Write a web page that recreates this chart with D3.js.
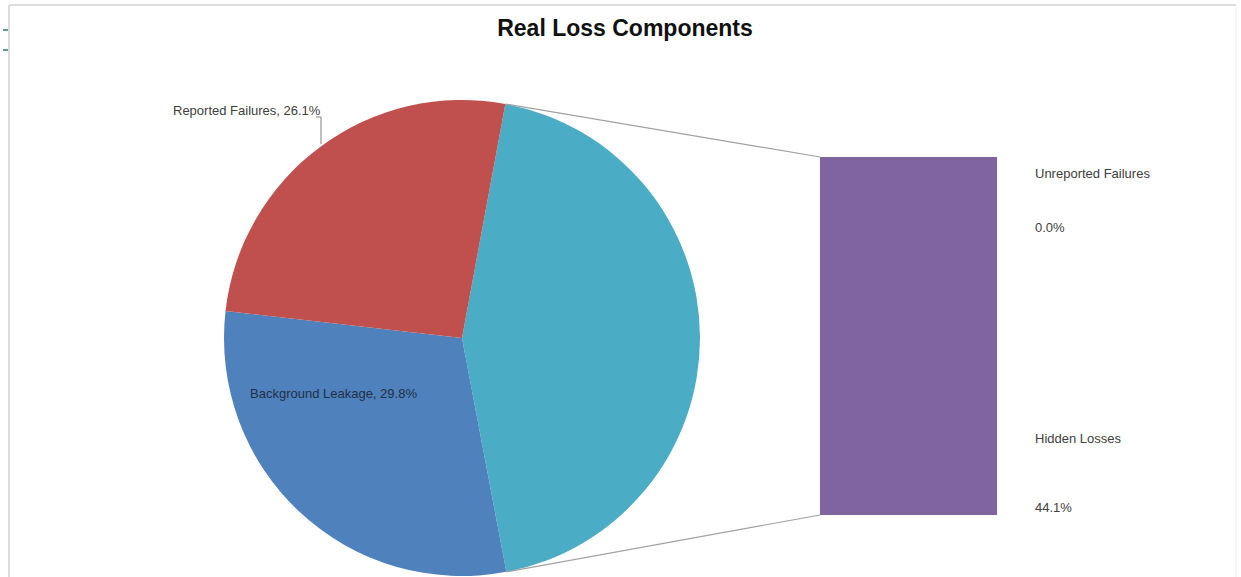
<!DOCTYPE html>
<html>
<head>
<meta charset="utf-8">
<script src="https://cdn.jsdelivr.net/npm/d3@7"></script>
<style>
  body { margin: 0; background: #fff; }
  svg { display: block; font-family: 'Liberation Sans', Arial, sans-serif; }
</style>
</head>
<body>
<svg id="chart" width="1241" height="577"></svg>
<script>
// Pie slices (cyan slice is split out into the bar)
const pieNames = ['Other', 'Background Leakage', 'Reported Failures'];
const pieValues = [44.1, 29.8, 26.1];
const pieColors = ['#4BACC6', '#4F81BD', '#C0504D'];

// Bar segments (bottom to top)
const barNames = ['Hidden Losses', 'Unreported Failures'];
const barValues = [44.1, 0.0];
const barColors = ['#8064A2', '#9BBB59'];

const svg = d3.select('#chart');

// frame
svg.append('line').attr('x1', 9).attr('y1', 5).attr('x2', 1236).attr('y2', 5)
  .style('stroke', '#dcdcdc').style('stroke-width', 2);
svg.append('line').attr('x1', 9).attr('y1', 5).attr('x2', 9).attr('y2', 577)
  .style('stroke', '#dcdcdc').style('stroke-width', 2);
svg.append('line').attr('x1', 1236).attr('y1', 5).attr('x2', 1236).attr('y2', 577)
  .style('stroke', '#f0f0f0').style('stroke-width', 1);
// little teal ticks at left edge
[30, 50].forEach((yy) => {
  svg.append('line').attr('x1', 3).attr('x2', 8).attr('y1', yy).attr('y2', yy)
    .style('stroke', '#6a9a8a').style('stroke-width', 2);
});

// title
svg.append('text')
  .attr('x', 625)
  .attr('y', 36)
  .attr('text-anchor', 'middle')
  .style('font-size', '23px')
  .style('font-weight', 'bold')
  .style('fill', '#111')
  .text('Real Loss Components');

// Pie
const cx = 462;
const cy = 338;
const r = 238;
const start = (10.5 * Math.PI) / 180;

const pie = d3.pie().sort(null).startAngle(start).endAngle(start + 2 * Math.PI);
const arcs = pie(pieValues);
const arc = d3.arc().innerRadius(0).outerRadius(r);

const g = svg.append('g').attr('transform', `translate(${cx},${cy})`);
g.selectAll('path')
  .data(arcs)
  .enter()
  .append('path')
  .attr('d', arc)
  .attr('fill', (d, i) => pieColors[i]);

// Bar
const barX = 820;
const barW = 177;
const y = d3.scaleLinear().domain([0, d3.sum(barValues)]).range([515, 157]);
let acc = 0;
const segs = barValues.map((v, i) => {
  const s = { name: barNames[i], value: v, y0: acc, y1: acc + v, color: barColors[i] };
  acc += v;
  return s;
});
svg.selectAll('rect.seg')
  .data(segs)
  .enter()
  .append('rect')
  .attr('class', 'seg')
  .attr('x', barX)
  .attr('width', barW)
  .attr('y', (d) => y(d.y1))
  .attr('height', (d) => y(d.y0) - y(d.y1))
  .attr('fill', (d) => d.color);

// connector lines
const pt = (a) => [cx + r * Math.sin(a), cy - r * Math.cos(a)];
const p1 = pt(arcs[0].startAngle);
const p2 = pt(arcs[0].endAngle);
svg.append('line').attr('x1', p1[0]).attr('y1', p1[1]).attr('x2', barX).attr('y2', y(acc))
  .style('stroke', '#a0a0a0').style('stroke-width', 1.2);
svg.append('line').attr('x1', p2[0]).attr('y1', p2[1]).attr('x2', barX).attr('y2', y(0))
  .style('stroke', '#a0a0a0').style('stroke-width', 1.2);

// labels
const fmt = (v) => `${v.toFixed(1)}%`;
const labelStyle = (sel) => sel.style('font-size', '13px').style('fill', '#404040');

// Reported Failures - outside with leader
svg.append('text').attr('x', 173).attr('y', 115)
  .call(labelStyle)
  .text(`${pieNames[2]}, ${fmt(pieValues[2])}`);
svg.append('polyline')
  .attr('points', '316,117 321,117 321,144')
  .style('fill', 'none').style('stroke', '#808080').style('stroke-width', 1);

// Background Leakage - inside
svg.append('text').attr('x', 250).attr('y', 398)
  .call(labelStyle)
  .style('fill', '#1f2f45')
  .text(`${pieNames[1]}, ${fmt(pieValues[1])}`);

// bar labels
const labX = 1035;
svg.append('text').attr('x', labX).attr('y', y(segs[1].y1) + 21)
  .call(labelStyle).text(segs[1].name);
svg.append('text').attr('x', labX).attr('y', y(segs[1].y1) + 75)
  .call(labelStyle).text(fmt(segs[1].value));
svg.append('text').attr('x', labX).attr('y', y(segs[0].y0) - 72)
  .call(labelStyle).text(segs[0].name);
svg.append('text').attr('x', labX).attr('y', y(segs[0].y0) - 3)
  .call(labelStyle).text(fmt(segs[0].value));
</script>
</body>
</html>
